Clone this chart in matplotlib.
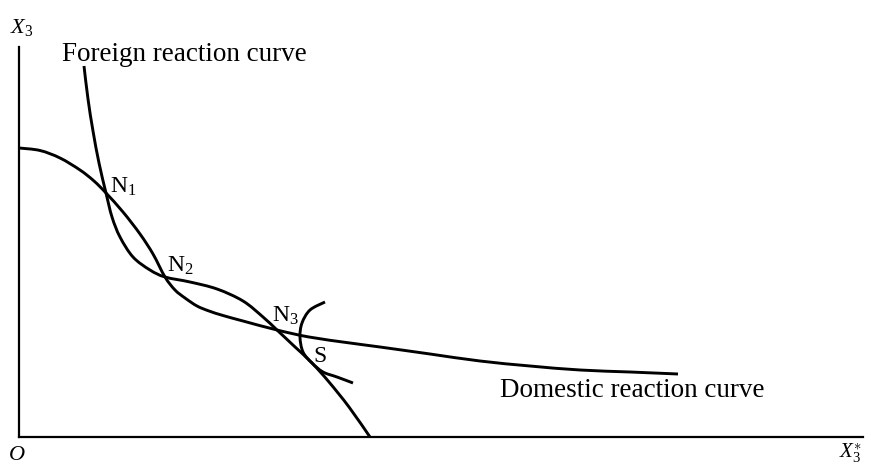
import numpy as np
import matplotlib
matplotlib.use("Agg")
import matplotlib.pyplot as plt
from matplotlib.path import Path
from matplotlib.patches import PathPatch

plt.rcParams['font.family'] = ['Liberation Serif', 'DejaVu Serif']
plt.rcParams['mathtext.fontset'] = 'custom'
plt.rcParams['mathtext.rm'] = 'Liberation Serif'
plt.rcParams['mathtext.it'] = 'Liberation Serif:italic'

# Curve points (x = X3*, y = X3, arbitrary units)
domestic_x = [0, 21, 41, 61, 75, 87, 104, 121, 134, 146, 156, 166, 178, 190, 204, 224, 258, 290, 331, 361, 411, 461, 511, 561, 611, 659]
domestic_y = [289, 286.5, 279, 267, 256, 244, 225, 203, 183, 160, 147, 139, 131, 126, 121.5, 116, 107, 100, 94, 90, 83, 76, 71, 67, 65, 63]

foreign_x = [65, 69, 74, 80, 87, 93, 101, 114, 131, 146, 171, 198, 224, 244, 258, 275, 293, 310, 330, 351]
foreign_y = [371, 338, 306, 274, 244, 220, 200, 180, 167, 160, 155, 148, 136, 120, 107, 91, 74, 55, 30, 0]

isoprofit_x = [306, 291, 283, 281, 284, 293, 304, 318, 334]
isoprofit_y = [135, 127, 114, 100, 85, 74, 65, 60, 54]

point_labels = ['$\\mathrm{N}_1$', '$\\mathrm{N}_2$', '$\\mathrm{N}_3$', 'S']
point_label_x = [91, 148, 253, 294]
point_label_y = [244, 165, 115, 75]


def smooth_path(xs, ys):
    pts = np.column_stack([xs, ys]).astype(float)
    verts = [pts[0]]
    codes = [Path.MOVETO]
    n = len(pts)
    for i in range(n - 1):
        p0 = pts[i - 1] if i > 0 else pts[i]
        p1 = pts[i]
        p2 = pts[i + 1]
        p3 = pts[i + 2] if i + 2 < n else pts[i + 1]
        c1 = p1 + (p2 - p0) / 6.0
        c2 = p2 - (p3 - p1) / 6.0
        verts += [c1, c2, p2]
        codes += [Path.CURVE4] * 3
    return Path(verts, codes)


fig = plt.figure(figsize=(8.71, 4.65), dpi=100)
W, H = 871, 465
ax = fig.add_axes([19 / W, (H - 437) / H, (863 - 19) / W, (437 - 47) / H])
ax.set_xlim(0, 844)
ax.set_ylim(0, 390)
for s in ['top', 'right']:
    ax.spines[s].set_visible(False)
for s in ['left', 'bottom']:
    ax.spines[s].set_linewidth(1.6)
ax.set_xticks([])
ax.set_yticks([])
ax.patch.set_alpha(0)

for xs, ys in [(domestic_x, domestic_y), (foreign_x, foreign_y), (isoprofit_x, isoprofit_y)]:
    ax.add_patch(PathPatch(smooth_path(xs, ys), facecolor='none', edgecolor='black',
                           lw=2.1, capstyle='butt', joinstyle='round'))

for lab, x, y in zip(point_labels, point_label_x, point_label_y):
    ax.text(x, y, lab, fontsize=17, ha='left', va='baseline')

ax.text(43, 376, 'Foreign reaction curve', fontsize=19.5, ha='left', va='baseline', clip_on=False)
ax.text(481, 40, 'Domestic reaction curve', fontsize=19.5, ha='left', va='baseline')
ax.text(-9, 404, '$X_3$', fontsize=16, ha='left', va='baseline', clip_on=False)
ax.text(-2, -23, '$O$', fontsize=16, ha='center', va='baseline', clip_on=False)
ax.text(820, -21, '$X_3^{\\ast}$', fontsize=15, ha='left', va='baseline', clip_on=False)

fig.savefig('out.png', dpi=100, facecolor='white')
